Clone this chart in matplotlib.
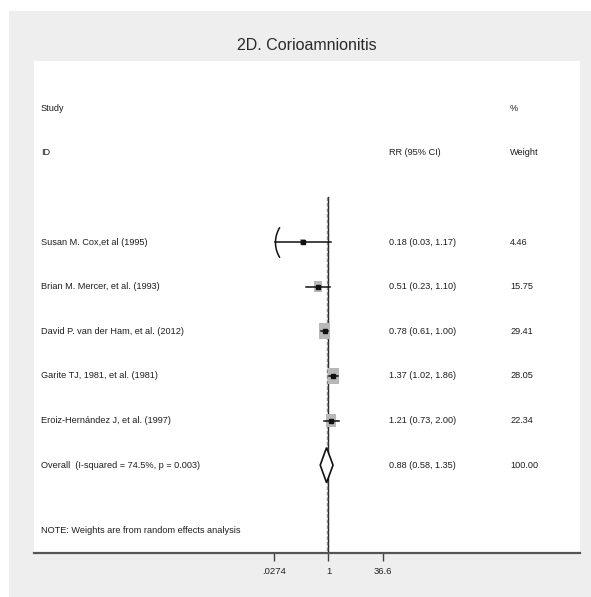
import numpy as np
import matplotlib
matplotlib.use('Agg')
import matplotlib.pyplot as plt
from matplotlib import patches
from matplotlib.path import Path
from matplotlib.transforms import blended_transform_factory

plt.rcParams['font.family'] = ['Liberation Sans', 'DejaVu Sans']

# study level results
studies = ['Susan M. Cox,et al (1995)',
           'Brian M. Mercer, et al. (1993)',
           'David P. van der Ham, et al. (2012)',
           'Garite TJ, 1981, et al. (1981)',
           'Eroiz-Hernández J, et al. (1997)']
rr = [0.18, 0.51, 0.78, 1.37, 1.21]
ci_lo = [0.03, 0.23, 0.61, 1.02, 0.73]
ci_hi = [1.17, 1.10, 1.00, 1.86, 2.00]
weights = [4.46, 15.75, 29.41, 28.05, 22.34]

# pooled estimate
overall_rr = 0.88
overall_lo = 0.58
overall_hi = 1.35
overall_weight = 100.00
i_squared = 74.5
p_het = 0.003

xticks = [0.0274, 1, 36.6]
xticklabels = ['.0274', '1', '36.6']

W, H = 591, 597
fig = plt.figure(figsize=(W / 100, H / 100), dpi=100)
fig.patch.set_facecolor('white')

# grey graph region behind the white plot panel
bg = fig.add_axes([9 / W, 0, 1 - 9 / W, 1 - 11 / H], zorder=-5)
bg.set_facecolor('#eeeeee')
bg.set_xticks([])
bg.set_yticks([])
for s in bg.spines.values():
    s.set_visible(False)

left, right, top, bottom = 34, 580, 61, 553
ax = fig.add_axes([left / W, 1 - bottom / H, (right - left) / W, (bottom - top) / H])
ax.set_facecolor('white')

# log x scale, ticks placed at fixed pixel columns
px_lo, px_hi = 274, 383
k = (px_hi - px_lo) / (np.log(xticks[-1]) - np.log(xticks[0]))
px_one = px_lo - k * np.log(xticks[0])
ax.set_xscale('log')
ax.set_xlim(np.exp((left - px_one) / k), np.exp((right - px_one) / k))
ax.set_ylim(6.97, -4.06)

ax.set_xticks(xticks)
ax.set_xticklabels(xticklabels)
ax.minorticks_off()
ax.set_yticks([])
ax.tick_params(axis='x', direction='out', length=6, width=1, color='#444444',
               labelsize=6.8, labelcolor='#222222', pad=4)
for s in ['top', 'left', 'right']:
    ax.spines[s].set_visible(False)
ax.spines['bottom'].set_color('#555555')
ax.spines['bottom'].set_linewidth(1.6)

n = len(studies)
ybot = ax.get_ylim()[0]

# reference lines: no effect and pooled estimate
ax.plot([1, 1], [-1, ybot], color='#222222', lw=1.0, zorder=2)
ax.plot([overall_rr, overall_rr], [-1, ybot], color='#888888', lw=1.0,
        ls=(0, (2.5, 1.5)), zorder=2)

# curved cap marking a clipped lower limit, opening to the right
t = np.linspace(np.radians(148), np.radians(212), 20)
cap = Path(np.column_stack([np.cos(t) + 1, np.sin(t)]))

# weight boxes, CI whiskers and point estimates
box_w, box_h = 2.1, 2.9
row_px = (bottom - top) / (ax.get_ylim()[0] - ax.get_ylim()[1])
for i in range(n):
    side = np.sqrt(weights[i])
    hw = box_w * side / 2 / k
    hh = box_h * side / 2 / row_px
    x0 = rr[i] * np.exp(-hw)
    x1 = rr[i] * np.exp(hw)
    ax.add_patch(patches.Rectangle((x0, i - hh), x1 - x0, 2 * hh,
                                   fc='#b8b8b8', ec='none', zorder=3))
    ax.plot([ci_lo[i], ci_hi[i]], [i, i], color='#111111', lw=1.1, zorder=4)
    ax.plot(rr[i], i, marker='s', ms=2.6, color='#111111', zorder=5)
    if ci_lo[i] < 0.05:
        ax.plot(ci_lo[i], i, marker=cap, ms=22, mfc='none', mec='#111111',
                mew=1.1, zorder=4)

# pooled diamond
dh = 17.5 / row_px
ax.add_patch(patches.Polygon([(overall_lo, n), (overall_rr, n - dh),
                              (overall_hi, n), (overall_rr, n + dh)],
                             closed=True, fc='white', ec='#111111', lw=1.2, zorder=4))

# text columns
tr = blended_transform_factory(fig.transFigure, ax.transData)
col_name, col_rr, col_w = 41 / W, 389 / W, 510 / W
txt = dict(transform=tr, fontsize=6.6, color='#1e1e1e', va='center', ha='left')

ax.text(col_name, -3, 'Study', **txt)
ax.text(col_name, -2, 'ID', **txt)
ax.text(col_rr, -2, 'RR (95% CI)', **txt)
ax.text(col_w, -3, '%', **txt)
ax.text(col_w, -2, 'Weight', **txt)

for i in range(n):
    ax.text(col_name, i, studies[i], **txt)
    ax.text(col_rr, i, f'{rr[i]:.2f} ({ci_lo[i]:.2f}, {ci_hi[i]:.2f})', **txt)
    ax.text(col_w, i, f'{weights[i]:.2f}', **txt)

ax.text(col_name, n, f'Overall  (I-squared = {i_squared:.1f}%, p = {p_het:.3f})', **txt)
ax.text(col_rr, n, f'{overall_rr:.2f} ({overall_lo:.2f}, {overall_hi:.2f})', **txt)
ax.text(col_w, n, f'{overall_weight:.2f}', **txt)
ax.text(col_name, 6.46, 'NOTE: Weights are from random effects analysis', **txt)

fig.text(307 / W, 1 - 46 / H, '2D. Corioamnionitis', ha='center', va='center',
         fontsize=11.5, color='#2a2a2a')

fig.savefig('out.png', dpi=100)
